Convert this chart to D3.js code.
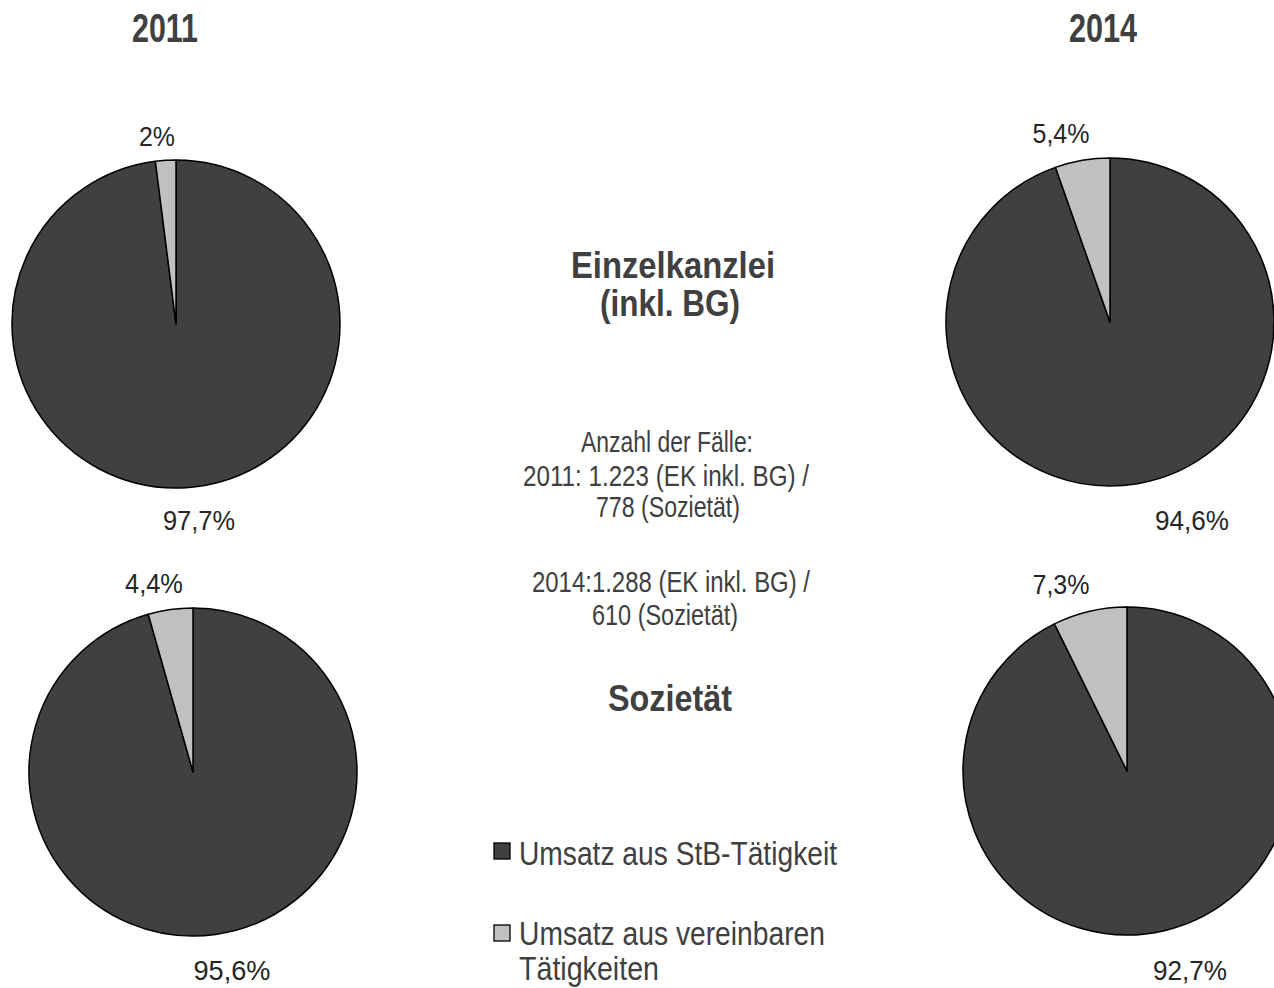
<!DOCTYPE html>
<html><head><meta charset="utf-8">
<script src="https://cdn.jsdelivr.net/npm/d3@7"></script>
<style>
html,body{margin:0;padding:0;background:#fff;}
svg{display:block;}
text{font-family:"Liberation Sans Narrow","Liberation Sans",Arial,sans-serif;}
</style></head>
<body>
<script>
// Data
const categories = ["Umsatz aus StB-Tätigkeit", "Umsatz aus vereinbaren Tätigkeiten"];
const years = ["2011", "2014"];
const groups = ["Einzelkanzlei", "(inkl. BG)", "Sozietät"];
const stbValues = [97.7, 94.6, 95.6, 92.7];        // EK2011, EK2014, Soz2011, Soz2014
const vereinbarValues = [2, 5.4, 4.4, 7.3];
const stbLabels = ["97,7%", "94,6%", "95,6%", "92,7%"];
const vereinbarLabels = ["2%", "5,4%", "4,4%", "7,3%"];
const caseNotes = ["Anzahl der Fälle:", "2011: 1.223 (EK inkl. BG) /", "778 (Sozietät)", "2014:1.288 (EK inkl. BG) /", "610 (Sozietät)"];
const legendLines = [["Umsatz aus StB-Tätigkeit"], ["Umsatz aus vereinbaren", "Tätigkeiten"]];

const W = 1274, H = 988;
const svg = d3.select("body").append("svg").attr("width", W).attr("height", H);

const color = d3.scaleOrdinal().domain(categories).range(["#404040", "#c0c0c0"]);

// text helper: centered text forced to a measured width
function txt(cx, y, s, size, width, opts = {}) {
  return svg.append("text")
    .attr("x", opts.start ? cx : cx - width / 2).attr("y", y)
    .attr("font-size", size)
    .attr("font-weight", opts.bold ? "bold" : "normal")
    .attr("fill", opts.fill || "#404040")
    .attr("textLength", width).attr("lengthAdjust", "spacingAndGlyphs")
    .text(s);
}

const pies = [
  {cx:176, cy:324, r:164, big:{x:199,y:530,w:72}, small:{x:157,y:146,w:36}},
  {cx:1110, cy:322, r:164, big:{x:1192,y:530,w:74}, small:{x:1061,y:143,w:57}},
  {cx:193, cy:772, r:164, big:{x:232,y:980,w:77}, small:{x:154,y:593,w:58}},
  {cx:1127, cy:771, r:164, big:{x:1190,y:980,w:74}, small:{x:1061,y:594,w:57}}
];

const pie = d3.pie().sort(null).value(d => d.v);
pies.forEach((p, i) => {
  const data = [{c:categories[0], v:stbValues[i]}, {c:categories[1], v:vereinbarValues[i]}];
  const arc = d3.arc().innerRadius(0).outerRadius(p.r);
  const g = svg.append("g").attr("transform", `translate(${p.cx},${p.cy})`);
  g.selectAll("path").data(pie(data)).join("path")
    .attr("d", arc)
    .attr("fill", d => color(d.data.c))
    .attr("stroke", "#000").attr("stroke-width", 1.5).attr("stroke-linejoin","round");
  txt(p.big.x, p.big.y, stbLabels[i], 28, p.big.w, {fill:"#262626"});
  txt(p.small.x, p.small.y, vereinbarLabels[i], 28, p.small.w, {fill:"#262626"});
});

// Year titles
txt(165, 42, years[0], 40, 66, {bold:true});
txt(1103, 42, years[1], 40, 68, {bold:true});

// Group titles
txt(673, 278, groups[0], 37, 204, {bold:true});
txt(670, 316, groups[1], 37, 140, {bold:true});
txt(670, 711, groups[2], 37, 124, {bold:true});

// Case-count notes
const notes = [
  {x:667, y:452, w:172}, {x:666, y:486, w:286}, {x:668, y:517, w:144},
  {x:671, y:592, w:278}, {x:665, y:625, w:146}
];
caseNotes.forEach((t, i) => txt(notes[i].x, notes[i].y, t, 29, notes[i].w));

// Legend
const leg = [{y:843, ty:[865], tw:[318]}, {y:925, ty:[945, 980], tw:[306, 140]}];
leg.forEach((l, k) => {
  svg.append("rect").attr("x", 494).attr("y", l.y).attr("width", 16).attr("height", 16)
    .attr("fill", color(categories[k])).attr("stroke","#000").attr("stroke-width",1.3);
  legendLines[k].forEach((s, j) => txt(519, l.ty[j], s, 33, l.tw[j], {start:true}));
});
</script>
</body></html>
